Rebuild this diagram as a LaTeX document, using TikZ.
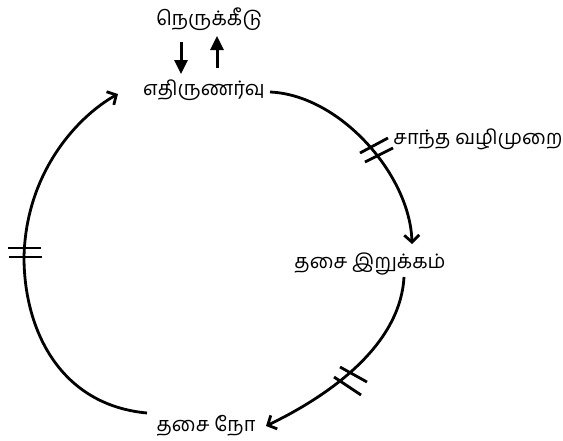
\documentclass[tikz,border=0pt]{standalone}
\usepackage{fontspec}
\newfontfamily\tamilfont[Script=Tamil]{Hind Madurai}
\usetikzlibrary{arrows.meta}
\tikzset{
  lbl/.style={font=\tamilfont\fontsize{20}{22}\selectfont, inner sep=0pt},
  cyc/.style={line width=2.8pt, -{Straight Barb[length=7pt,width=15pt,line width=2.8pt]}},
  vert/.style={line width=3pt, -{Triangle[length=14pt,width=13pt]}},
  hatch/.style={line width=2.8pt}
}
\begin{document}
\begin{tikzpicture}[x=1pt,y=-1pt]
\useasboundingbox (0,0) rectangle (563,440);
\node[lbl] (stress) at (209,19) {நெருக்கீடு};
\node[lbl] (resp) at (204,90) {எதிருணர்வு};
\node[lbl] (relax) at (478,139) {சாந்த வழிமுறை};
\node[lbl] (tight) at (370,264) {தசை இறுக்கம்};
\node[lbl] (pain) at (206,426) {தசை நோ};
% vertical arrows
\coordinate (d1) at (181,42); \coordinate (d2) at (181,74);
\coordinate (u1) at (217,68); \coordinate (u2) at (217,36);
\draw[vert] (d1) -- (d2);
\draw[vert] (u1) -- (u2);
% curve endpoints
\coordinate (c1s) at (270,92); \coordinate (c1e) at (412,244);
\coordinate (c2s) at (404,277); \coordinate (c2e) at (266,426);
\coordinate (c3s) at (147,413); \coordinate (c3m) at (24,257); \coordinate (c3e) at (118,94);
\draw[cyc] (c1s) .. controls (340,95) and (410,175) .. (c1e);
\draw[cyc] (c2s) .. controls (400,350) and (320,400) .. (c2e);
\draw[cyc] (c3s) .. controls (60,405) and (24,330) .. (c3m)
  .. controls (26,170) and (80,115) .. (c3e);
% hatch marks
\draw[hatch] (360,153) -- (388,138);
\draw[hatch] (365,162) -- (393,148);
\draw[hatch] (340,367) -- (367,382);
\draw[hatch] (334,377) -- (361,395);
\draw[hatch] (8,248) -- (41,248);
\draw[hatch] (9,257) -- (42,257);
\end{tikzpicture}
\end{document}
